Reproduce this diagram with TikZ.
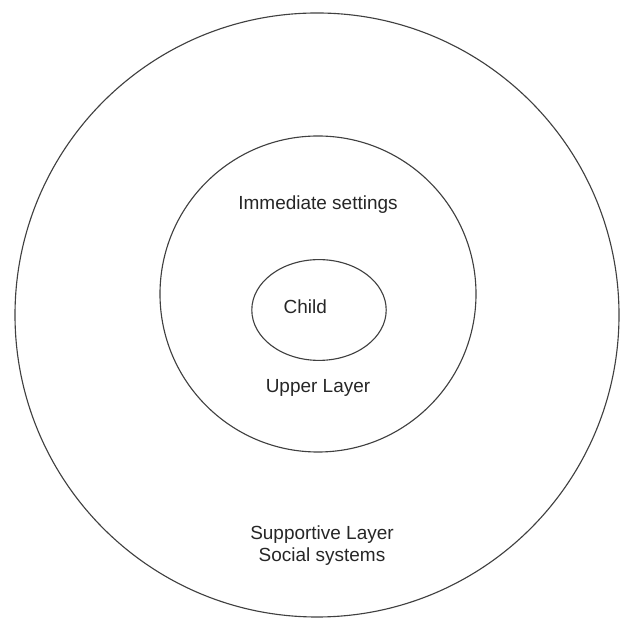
\documentclass[tikz,border=0pt]{standalone}
\usepackage{fontspec}
\setmainfont{Liberation Sans}
\usepackage{tikz}
\usetikzlibrary{shapes, positioning}

\tikzset{ring/.style={draw=black!75, line width=0.8pt},
lbl/.style={text=black!85, font=\fontsize{13.5}{16}\selectfont, inner sep=0pt, align=center}}

\begin{document}
\begin{tikzpicture}
\useasboundingbox (0,0) rectangle (15.5,15.625);

%//rings, from outside in
\draw[ring] (7.925,7.75) circle (7.55);
\draw[ring] (7.95,8.275) circle (3.95);
\draw[ring] (7.975,7.875) ellipse (1.68 and 1.26);

\node [lbl] (child) at (7.63, 7.95) {Child};
\node [lbl] (imm) at (7.95, 10.5) {Immediate settings};
\node [lbl] (upper) at (7.95, 5.93) {Upper Layer};
\node [lbl] (supp) at (8.05, 1.98) {Supportive Layer\\Social systems};
\end{tikzpicture}
\end{document}
